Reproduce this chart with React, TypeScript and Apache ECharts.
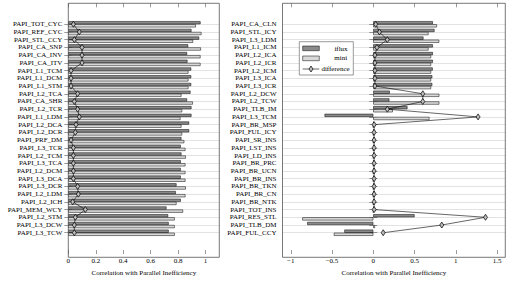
import React, { useEffect, useRef } from 'react';
import * as echarts from 'echarts';

const leftCategories = [
  'PAPI_TOT_CYC', 'PAPI_REF_CYC', 'PAPI_STL_CCY', 'PAPI_CA_SNP', 'PAPI_CA_INV', 'PAPI_CA_ITV',
  'PAPI_L1_TCM', 'PAPI_L1_DCM', 'PAPI_L1_STM', 'PAPI_L2_TCA', 'PAPI_CA_SHR', 'PAPI_L2_TCR',
  'PAPI_L1_LDM', 'PAPI_L2_DCA', 'PAPI_L2_DCR', 'PAPI_PRF_DM', 'PAPI_L3_TCR', 'PAPI_L2_TCM',
  'PAPI_L3_TCA', 'PAPI_L2_DCM', 'PAPI_L3_DCA', 'PAPI_L3_DCR', 'PAPI_L2_LDM', 'PAPI_L2_ICH',
  'PAPI_MEM_WCY', 'PAPI_L2_STM', 'PAPI_L3_DCW', 'PAPI_L3_TCW',
];
const leftIflux = [
  0.963, 0.897, 0.953, 0.873, 0.865, 0.868, 0.895, 0.895, 0.895, 0.89, 0.865, 0.897, 0.897, 0.88,
  0.88, 0.824, 0.819, 0.824, 0.819, 0.819, 0.819, 0.788, 0.783, 0.819, 0.715, 0.727, 0.731, 0.731,
];
const leftMini = [
  0.929, 0.97, 0.909, 0.966, 0.963, 0.963, 0.875, 0.875, 0.875, 0.824, 0.907, 0.829, 0.817, 0.824,
  0.829, 0.845, 0.853, 0.856, 0.853, 0.853, 0.853, 0.856, 0.853, 0.788, 0.836, 0.775, 0.775, 0.775,
];
const leftDifference = [
  0.037, 0.08, 0.044, 0.1, 0.1, 0.1, 0.02, 0.02, 0.02, 0.068, 0.044, 0.068, 0.08, 0.056,
  0.051, 0.02, 0.037, 0.037, 0.037, 0.037, 0.037, 0.068, 0.073, 0.032, 0.124, 0.051, 0.044, 0.044,
];

const rightCategories = [
  'PAPI_CA_CLN', 'PAPI_STL_ICY', 'PAPI_L3_LDM', 'PAPI_L1_ICM', 'PAPI_L2_ICA', 'PAPI_L2_ICR',
  'PAPI_L2_ICM', 'PAPI_L3_ICA', 'PAPI_L3_ICR', 'PAPI_L2_DCW', 'PAPI_L2_TCW', 'PAPI_TLB_IM',
  'PAPI_L3_TCM', 'PAPI_BR_MSP', 'PAPI_FUL_ICY', 'PAPI_SR_INS', 'PAPI_LST_INS', 'PAPI_LD_INS',
  'PAPI_BR_PRC', 'PAPI_BR_UCN', 'PAPI_BR_INS', 'PAPI_BR_TKN', 'PAPI_BR_CN', 'PAPI_BR_NTK',
  'PAPI_TOT_INS', 'PAPI_RES_STL', 'PAPI_TLB_DM', 'PAPI_FUL_CCY',
];
const rightIflux = [
  0.722, 0.742, 0.608, 0.722, 0.722, 0.722, 0.72, 0.715, 0.715, 0.2, 0.195, 0.414, -0.59, 0.01,
  0.01, 0.01, 0.01, 0.01, 0.01, 0.01, 0.01, 0.01, 0.01, 0.01, 0.01, 0.5, -0.8, -0.35,
];
const rightMini = [
  0.771, 0.669, 0.799, 0.669, 0.7, 0.7, 0.7, 0.7, 0.7, 0.8, 0.8, 0.236, 0.681, 0,
  0, 0, 0, 0, 0, 0, 0, 0, 0, 0, 0, -0.86, 0.02, -0.478,
];
const rightDifference = [
  0.03, 0.075, 0.17, 0.045, 0.02, 0.02, 0.02, 0.02, 0.02, 0.6, 0.6, 0.17, 1.27, 0.01,
  0.01, 0.01, 0.01, 0.01, 0.01, 0.01, 0.01, 0.01, 0.01, 0.01, 0.01, 1.36, 0.83, 0.12,
];

const leftTicks = [0, 0.2, 0.4, 0.6, 0.8, 1];
const rightTicks = [-1, -0.5, 0, 0.5, 1, 1.5];
const axisTitle = 'Correlation with Parallel Inefficiency';

const FONT = 'Liberation Serif';
const DARK = '#8a8a8a';
const LIGHT = '#d8d8d8';
const FRAME = '#555';
const GRIDLINE = '#d0d0d0';
const MARK_FILL = '#bbbbbb';

const fmt = (v: number) => (v < 0 ? '\u2212' + String(Math.abs(v)) : String(v));

const FRAME_TOP = 3.3;
const FRAME_BOTTOM = 257.3;
const GRID_TOP = 20.4;
const GRID_H = 219.4;

function panel(
  idx: number,
  left: number,
  width: number,
  cats: string[],
  iflux: number[],
  mini: number[],
  diff: number[],
  min: number,
  max: number,
  ticks: number[],
) {
  const grid = { left, top: GRID_TOP, width, height: GRID_H, containLabel: false };
  const xa = idx * 2;
  const xBottom = {
    type: 'value', gridIndex: idx, min, max, position: 'bottom',
    offset: FRAME_BOTTOM - (GRID_TOP + GRID_H),
    axisLine: { show: false },
    axisTick: { show: true, inside: true, length: 4, customValues: ticks, lineStyle: { color: FRAME, width: 0.6 } },
    axisLabel: { customValues: ticks, formatter: fmt, fontSize: 7, fontFamily: FONT, color: '#000', margin: 3 },
    splitLine: { show: false },
    name: axisTitle, nameLocation: 'middle', nameGap: 13,
    nameTextStyle: { fontSize: 7, fontFamily: FONT, color: '#000' },
  };
  const xTop = {
    type: 'value', gridIndex: idx, min, max, position: 'top',
    offset: GRID_TOP - FRAME_TOP,
    axisLine: { show: false },
    axisTick: { show: true, inside: true, length: 4, customValues: ticks, lineStyle: { color: FRAME, width: 0.6 } },
    axisLabel: { show: false },
    splitLine: { show: false },
  };
  const yLeft = {
    type: 'category', gridIndex: idx, data: cats, inverse: true, position: 'left',
    axisLine: { show: false },
    axisTick: { show: true, interval: 0, alignWithLabel: true, length: 4, lineStyle: { color: FRAME, width: 0.6 } },
    axisLabel: { interval: 0, fontSize: 7, fontFamily: FONT, color: '#000', margin: 6 },
    splitLine: { show: true, interval: 0, alignWithLabel: true, lineStyle: { color: GRIDLINE, width: 0.6 } },
  };
  const yRight = {
    type: 'category', gridIndex: idx, data: cats, inverse: true, position: 'right',
    axisLine: { show: false },
    axisTick: { show: true, interval: 0, alignWithLabel: true, length: 4, lineStyle: { color: FRAME, width: 0.6 } },
    axisLabel: { show: false },
    splitLine: { show: false },
  };
  const series = [
    {
      name: 'iflux', type: 'bar', xAxisIndex: xa, yAxisIndex: xa, data: iflux,
      barWidth: '40%', barGap: '0%',
      itemStyle: { color: DARK, borderColor: '#000', borderWidth: 0.5 },
    },
    {
      name: 'mini', type: 'bar', xAxisIndex: xa, yAxisIndex: xa, data: mini,
      barWidth: '40%', barGap: '0%',
      itemStyle: { color: LIGHT, borderColor: '#000', borderWidth: 0.5 },
    },
    {
      name: 'difference', type: 'line', xAxisIndex: xa, yAxisIndex: xa, data: diff,
      symbol: 'diamond', symbolSize: [4, 6], showAllSymbol: true, z: 5,
      lineStyle: { color: '#000', width: 0.6 },
      itemStyle: { color: MARK_FILL, borderColor: '#000', borderWidth: 0.7 },
    },
  ];
  return { grid, xAxes: [xBottom, xTop], yAxes: [yLeft, yRight], series };
}

export default function App() {
  const ref = useRef<HTMLDivElement>(null);
  useEffect(() => {
    if (!ref.current) return;
    const chart = echarts.init(ref.current, null, { renderer: 'svg' });
    const p0 = panel(0, 68.3, 151, leftCategories, leftIflux, leftMini, leftDifference, 0, 1.1, leftTicks);
    const p1 = panel(1, 282.5, 222.8, rightCategories, rightIflux, rightMini, rightDifference, -1.1, 1.6, rightTicks);
    const lx = 299.3;
    const ly = 41.7;
    chart.setOption({
      animation: false,
      backgroundColor: '#fff',
      textStyle: { fontFamily: FONT },
      grid: [p0.grid, p1.grid],
      xAxis: [...p0.xAxes, ...p1.xAxes],
      yAxis: [...p0.yAxes, ...p1.yAxes],
      series: [...p0.series, ...p1.series],
      graphic: [
        { type: 'rect', shape: { x: 68.3, y: FRAME_TOP, width: 151, height: FRAME_BOTTOM - FRAME_TOP }, style: { fill: 'none', stroke: FRAME, lineWidth: 0.8 }, z: 10 },
        { type: 'rect', shape: { x: 282.5, y: FRAME_TOP, width: 222.8, height: FRAME_BOTTOM - FRAME_TOP }, style: { fill: 'none', stroke: FRAME, lineWidth: 0.8 }, z: 10 },
        { type: 'rect', shape: { x: lx, y: ly, width: 54, height: 33.3 }, style: { fill: '#fff', stroke: FRAME, lineWidth: 0.6 }, z: 20 },
        { type: 'rect', shape: { x: lx + 3.4, y: ly + 4.3, width: 16.6, height: 4.7 }, style: { fill: DARK, stroke: '#000', lineWidth: 0.5 }, z: 21 },
        { type: 'rect', shape: { x: lx + 3.4, y: ly + 14.3, width: 16.6, height: 4.7 }, style: { fill: LIGHT, stroke: '#000', lineWidth: 0.5 }, z: 21 },
        { type: 'line', shape: { x1: lx + 3.4, y1: ly + 27.3, x2: lx + 20, y2: ly + 27.3 }, style: { stroke: '#000', lineWidth: 0.6 }, z: 21 },
        { type: 'polygon', shape: { points: [[lx + 11.7, ly + 24.3], [lx + 13.7, ly + 27.3], [lx + 11.7, ly + 30.3], [lx + 9.7, ly + 27.3]] }, style: { fill: MARK_FILL, stroke: '#000', lineWidth: 0.7 }, z: 22 },
        { type: 'text', x: lx + 41.7, y: ly + 6.8, style: { text: 'iflux', fontSize: 7, fontFamily: FONT, fill: '#000', align: 'center', verticalAlign: 'middle' }, z: 22 },
        { type: 'text', x: lx + 41.4, y: ly + 16.6, style: { text: 'mini', fontSize: 7, fontFamily: FONT, fill: '#000', align: 'center', verticalAlign: 'middle' }, z: 22 },
        { type: 'text', x: lx + 36.2, y: ly + 27.3, style: { text: 'difference', fontSize: 7, fontFamily: FONT, fill: '#000', align: 'center', verticalAlign: 'middle' }, z: 22 },
      ],
    });
    return () => chart.dispose();
  }, []);
  return <div ref={ref} style={{ position: 'absolute', left: 0, top: 0, width: 513, height: 281 }} />;
}
